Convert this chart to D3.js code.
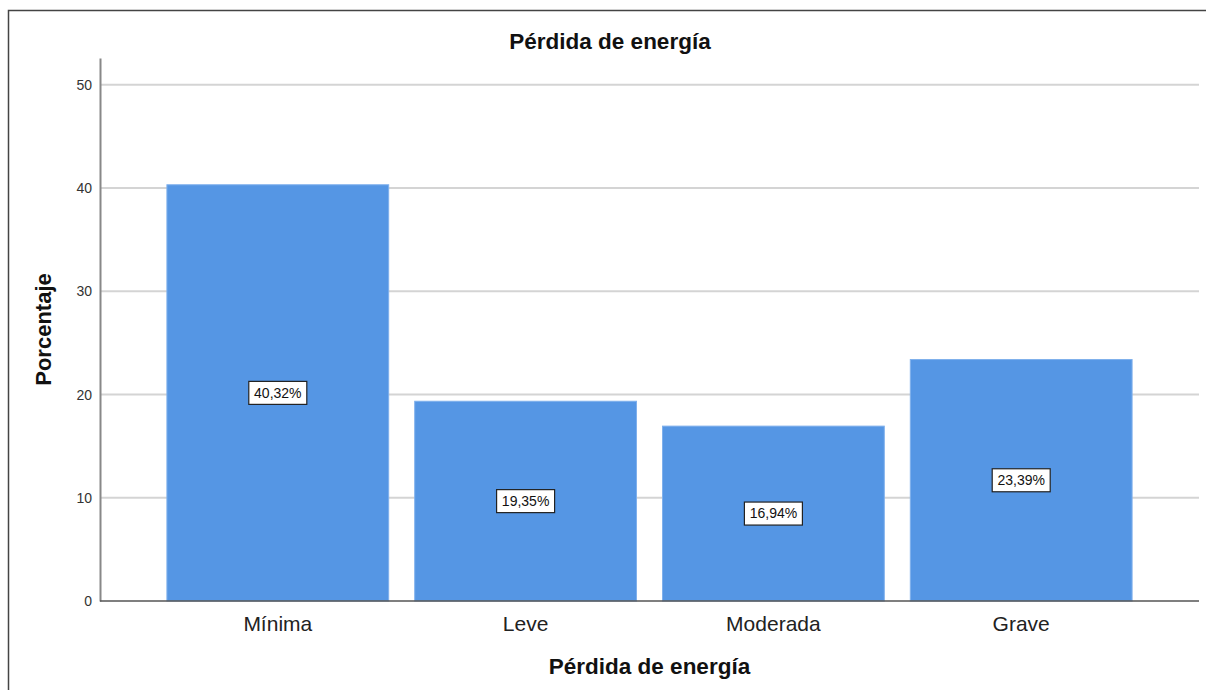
<!DOCTYPE html>
<html>
<head>
<meta charset="utf-8">
<script src="https://cdn.jsdelivr.net/npm/d3@7"></script>
<style>
  body { margin: 0; background: #fff; }
  svg { font-family: "Liberation Sans", Arial, sans-serif; }
</style>
</head>
<body>
<div id="chart"></div>
<script>
// chart values
var categories = ["Mínima", "Leve", "Moderada", "Grave"];
var percents = [40.32, 19.35, 16.94, 23.39];
var yTicks = [0, 10, 20, 30, 40, 50];
var chartTitle = "Pérdida de energía";
var xTitle = "Pérdida de energía";
var yTitle = "Porcentaje";

var width = 1206, height = 690;
// plot area (don't call it "top", that's window.top)
var plotLeft = 100, plotRight = 1199, plotTop = 58, plotBottom = 601;

var svg = d3.select("#chart").append("svg")
    .attr("width", width)
    .attr("height", height);

// outer frame
svg.append("rect")
    .attr("x", 8.5).attr("y", 10.5)
    .attr("width", 1210).attr("height", 700)
    .attr("fill", "none")
    .attr("stroke", "#444")
    .attr("stroke-width", 1.5);

var x = d3.scaleBand()
    .domain(categories)
    .range([plotLeft, plotRight])
    .paddingInner(0.105)
    .paddingOuter(0.27);

var y = d3.scaleLinear()
    .domain([0, 52.6])
    .range([plotBottom, plotTop]);

// gridlines
svg.append("g")
    .selectAll("line")
    .data(yTicks.filter(function(d) { return d > 0; }))
    .enter().append("line")
    .attr("x1", plotLeft).attr("x2", plotRight)
    .attr("y1", function(d) { return y(d); })
    .attr("y2", function(d) { return y(d); })
    .attr("stroke", "#d4d4d4")
    .attr("stroke-width", 2);

// bars
svg.append("g")
    .selectAll("rect")
    .data(percents)
    .enter().append("rect")
    .attr("x", function(d, i) { return x(categories[i]); })
    .attr("y", function(d) { return y(d); })
    .attr("width", x.bandwidth())
    .attr("height", function(d) { return plotBottom - y(d); })
    .attr("fill", "#5596e4")
    .attr("stroke", "#7fb0ec")
    .attr("stroke-width", 1);

// y axis
var yAxis = svg.append("g")
    .attr("transform", "translate(" + plotLeft + ",0)")
    .call(d3.axisLeft(y).tickValues(yTicks).tickSize(0).tickPadding(8));
yAxis.select(".domain").attr("stroke", "#888").attr("stroke-width", 2);
yAxis.selectAll("text")
    .attr("font-size", 14)
    .attr("fill", "#333")
    .attr("font-family", "Liberation Sans, Arial, sans-serif");

// x axis
var xAxis = svg.append("g")
    .attr("transform", "translate(0," + plotBottom + ")")
    .call(d3.axisBottom(x).tickSize(0).tickPadding(15));
xAxis.select(".domain").attr("stroke", "#555").attr("stroke-width", 1.5)
    .attr("d", "M" + plotLeft + ",0H" + plotRight);
xAxis.selectAll("text")
    .attr("font-size", 21)
    .attr("fill", "#222")
    .attr("font-family", "Liberation Sans, Arial, sans-serif");

// value labels in boxes
var labels = svg.append("g")
    .selectAll("g")
    .data(percents)
    .enter().append("g")
    .attr("transform", function(d, i) {
        return "translate(" + (x(categories[i]) + x.bandwidth() / 2) + "," + y(d / 2) + ")";
    });
labels.append("rect")
    .attr("x", -29).attr("y", -11.5)
    .attr("width", 58).attr("height", 23)
    .attr("fill", "#fff")
    .attr("stroke", "#222")
    .attr("stroke-width", 1.2);
labels.append("text")
    .attr("text-anchor", "middle")
    .attr("dy", "0.35em")
    .attr("font-size", 14)
    .attr("fill", "#111")
    .text(function(d) { return d.toFixed(2).replace(".", ",") + "%"; });

// titles
svg.append("text")
    .attr("x", 610).attr("y", 49)
    .attr("text-anchor", "middle")
    .attr("font-size", 22.5)
    .attr("font-weight", "bold")
    .attr("fill", "#111")
    .text(chartTitle);

svg.append("text")
    .attr("x", (plotLeft + plotRight) / 2).attr("y", 674)
    .attr("text-anchor", "middle")
    .attr("font-size", 22.5)
    .attr("font-weight", "bold")
    .attr("fill", "#111")
    .text(xTitle);

svg.append("text")
    .attr("transform", "translate(51," + ((plotTop + plotBottom) / 2) + ") rotate(-90)")
    .attr("text-anchor", "middle")
    .attr("font-size", 22)
    .attr("font-weight", "bold")
    .attr("fill", "#111")
    .text(yTitle);
</script>
</body>
</html>
